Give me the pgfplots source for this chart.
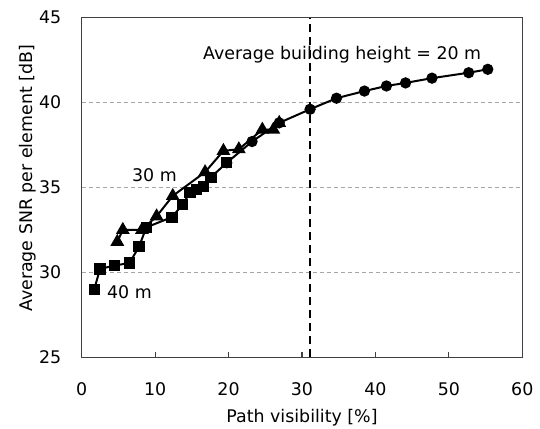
\documentclass[border=0pt]{standalone}
\usepackage{fontspec}
\setmainfont{DejaVu Sans}
\usepackage{pgfplots}
\pgfplotsset{compat=1.18}
\usetikzlibrary{calc}
\begin{document}
\begin{tikzpicture}[font=\fontsize{8.7}{10.4}\selectfont]
\begin{axis}[name=ax, scale only axis, width=220.3pt, height=169.9pt,
  xmin=0, xmax=60, ymin=25, ymax=45,
  xtick={0,10,...,60}, ytick={25,30,...,45},
  tick align=inside, xtick pos=bottom, ytick pos=left,
  major tick length=2.5pt,
  ytick style={draw=none},
  xtick style={black!75, line width=0.6pt},
  axis line style={black!75, line width=0.75pt},
  ymajorgrids,
  grid style={gray!70, dash pattern=on 2pt off 1.5pt, line width=0.5pt},
  /pgf/number format/assume math mode=true,
  tick label style={font=\fontsize{8.7}{10.4}\selectfont},
  yticklabel style={anchor=east, inner sep=0pt, xshift=-10pt},
  xticklabel style={anchor=north, inner sep=0pt, yshift=-12.2pt},
  clip=false,
]
\addplot[black, line width=0.9pt, dash pattern=on 4pt off 2.5pt] coordinates {(31.1,25) (31.1,45)};
\node[anchor=base west, inner sep=0pt] at (axis cs:16.49,42.54) {Average building height = 20 m};
\node[anchor=base west, inner sep=0pt] at (axis cs:6.81,35.32) {30 m};
\node[anchor=base west, inner sep=0pt] at (axis cs:3.41,28.47) {40 m};
% 40 m
\addplot[black, line width=1pt, mark=square*, mark size=2.3pt, mark options={solid}] coordinates {
(1.7,29.0) (2.5,30.2) (4.45,30.4) (6.5,30.55) (7.8,31.5) (8.8,32.65) (12.3,33.25) (13.75,34.0) (14.75,34.7) (15.65,34.9) (16.55,35.05) (17.6,35.6) (19.75,36.45)};
% 30 m
\addplot[black, line width=1pt, mark=triangle*, mark size=3pt, mark options={solid}] coordinates {
(4.85,31.8) (5.6,32.5) (8.2,32.5) (10.2,33.3) (12.4,34.5) (16.8,35.9) (19.3,37.15) (21.4,37.25) (24.6,38.4) (26.1,38.4) (26.9,38.8)};
% 20 m
\addplot[black, line width=1pt, mark=*, mark size=2.3pt, mark options={solid}] coordinates {
(19.75,36.45) (23.2,37.7) (26.9,38.8) (31.1,39.6) (34.7,40.25) (38.5,40.67) (41.5,40.97) (44.1,41.15) (47.7,41.43) (52.7,41.75) (55.3,41.95)};
\end{axis}
\node[rotate=90, anchor=base] at ($(ax.west)+(-24.5pt,4.5pt)$) {Average SNR per element [dB]};
\node[anchor=base] at ($(ax.south)+(0,-32.7pt)$) {Path visibility [\%]};
\pgfresetboundingbox
\path ($(ax.south west)+(-40.85pt,-35.35pt)$) rectangle ($(ax.north east)+(8.85pt,8.75pt)$);
\end{tikzpicture}
\end{document}
